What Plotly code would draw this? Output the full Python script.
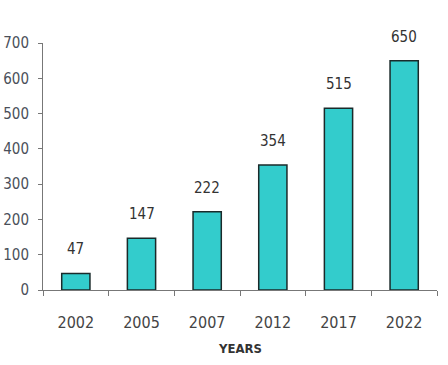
import plotly.graph_objects as go

years = ["2002", "2005", "2007", "2012", "2017", "2022"]
values = [47, 147, 222, 354, 515, 650]
y_ticks = [0, 100, 200, 300, 400, 500, 600, 700]

FONT = "Liberation Sans Narrow, DejaVu Sans Condensed, Arial Narrow, Liberation Sans, sans-serif"

fig = go.Figure()
fig.add_trace(go.Bar(
    x=years, y=values,
    marker=dict(color="#33CCCC", line=dict(color="#1a2a2a", width=1.5)),
    showlegend=False,
))

for i, v in enumerate(values):
    fig.add_annotation(x=i, y=v, text=str(v), showarrow=False,
                       yanchor="bottom", yshift=13,
                       font=dict(family=FONT, size=15, color="#333333"))

fig.add_annotation(x=0.5, xref="paper", y=-0.235, yref="paper", text="<b>YEARS</b>",
                   showarrow=False, yanchor="middle",
                   font=dict(family=FONT, size=13, color="#333333"))

fig.update_layout(
    width=448, height=365,
    margin=dict(l=43, r=11, t=43, b=75),
    paper_bgcolor="white", plot_bgcolor="white",
    bargap=0.57,
    xaxis=dict(
        type="category", showline=True, linecolor="#777777", linewidth=1,
        ticks="outside", tickson="boundaries", ticklen=5, tickcolor="#777777",
        ticklabelstandoff=18, tickangle=0, automargin=False,
        tickfont=dict(family=FONT, size=16, color="#444444"),
        showgrid=False, zeroline=False,
    ),
    yaxis=dict(
        range=[0, 700], tickvals=y_ticks, showline=True, linecolor="#777777", linewidth=1,
        ticks="outside", ticklen=4, tickcolor="#777777", ticklabelstandoff=6,
        automargin=False,
        tickfont=dict(family=FONT, size=15, color="#4a4f5a"),
        showgrid=False, zeroline=False,
    ),
)

fig.write_html("out.html", config={"displayModeBar": False},
               post_script="document.body.style.margin='0';")
